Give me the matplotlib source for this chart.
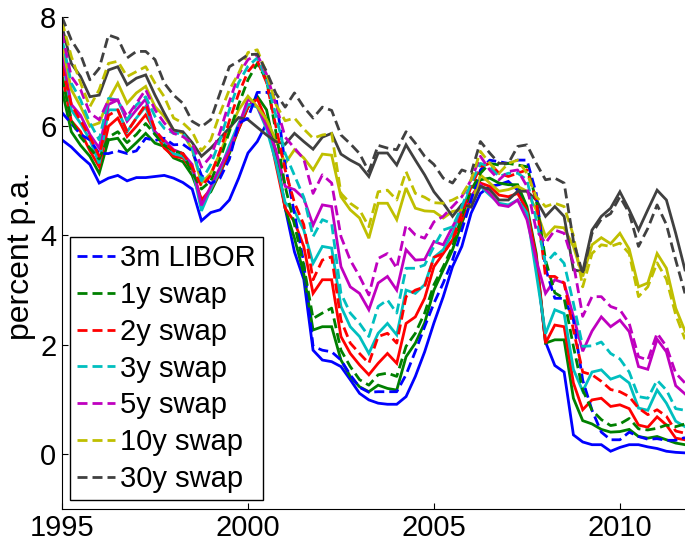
import numpy as np
import matplotlib
matplotlib.use("Agg")
import matplotlib.pyplot as plt

plt.rcParams['font.family'] = ['Liberation Sans', 'DejaVu Sans']

# quarterly observations, 1995Q1 .. 2011Q4
t = 1995 + np.arange(68) / 4.0

labels = ['3m LIBOR', '1y swap', '2y swap', '3y swap', '5y swap', '10y swap', '30y swap']
colors = ['#0000ff', '#008000', '#ff0000', '#00bfbf', '#bf00bf', '#bfbf00', '#404040']

# data (dashed)
libor_obs = [6.25, 6.05, 5.85, 5.75, 5.50, 5.50, 5.55, 5.50, 5.55, 5.78,
             5.74, 5.78, 5.66, 5.67, 5.55, 5.10, 4.95, 5.05, 5.40, 6.05,
             6.15, 6.62, 6.62, 6.55, 5.30, 4.40, 3.50, 1.97, 1.90, 1.87,
             1.72, 1.45, 1.22, 1.13, 1.14, 1.14, 1.14, 1.45, 1.88, 2.33,
             2.76, 3.13, 3.55, 4.10, 4.65, 5.20, 5.38, 5.35, 5.32, 5.38,
             5.38, 4.77, 3.40, 2.85, 2.85, 2.45, 1.35, 0.80, 0.40, 0.26,
             0.26, 0.40, 0.32, 0.27, 0.28, 0.25, 0.25, 0.30]
swap1_obs = [6.90, 6.10, 5.80, 5.60, 5.40, 5.80, 5.90, 5.70, 5.85, 6.05,
             5.85, 5.65, 5.55, 5.50, 5.15, 4.85, 5.00, 5.40, 5.90, 6.40,
             6.85, 7.15, 6.85, 5.90, 4.90, 4.20, 3.45, 2.48, 2.58, 2.67,
             1.90, 1.60, 1.36, 1.26, 1.45, 1.48, 1.42, 1.97, 2.21, 2.58,
             3.10, 3.43, 3.80, 4.35, 4.83, 5.14, 5.32, 5.29, 5.32, 5.29,
             5.26, 4.65, 3.55, 2.95, 2.85, 1.97, 1.17, 0.80, 0.63, 0.52,
             0.55, 0.65, 0.46, 0.44, 0.47, 0.53, 0.50, 0.55]
swap2_obs = [7.10, 6.40, 6.10, 5.80, 5.45, 6.20, 6.30, 5.90, 6.15, 6.40,
             5.95, 5.70, 5.55, 5.50, 5.25, 4.90, 5.10, 5.55, 6.10, 6.60,
             7.00, 7.20, 6.80, 6.00, 5.20, 4.60, 4.20, 3.19, 3.55, 3.61,
             2.45, 2.03, 1.84, 1.66, 2.15, 2.21, 2.03, 2.88, 3.00, 3.06,
             3.60, 3.67, 3.92, 4.41, 4.90, 5.26, 5.32, 5.14, 5.08, 5.14,
             5.20, 4.65, 3.25, 3.25, 3.13, 2.27, 1.50, 1.45, 1.33, 1.18,
             1.14, 1.05, 0.84, 0.72, 0.81, 0.69, 0.42, 0.38]
swap3_obs = [7.60, 6.79, 6.48, 6.06, 5.75, 6.51, 6.48, 6.12, 6.39, 6.54,
             6.18, 5.96, 5.87, 5.87, 5.60, 5.00, 5.30, 5.75, 6.30, 6.80,
             7.10, 7.25, 6.85, 6.20, 5.50, 5.10, 4.70, 3.98, 4.29, 4.22,
             2.94, 2.58, 2.39, 2.15, 2.70, 2.82, 2.58, 3.40, 3.40, 3.46,
             3.80, 4.10, 4.16, 4.53, 4.96, 5.32, 5.26, 5.08, 5.14, 5.14,
             5.02, 4.29, 3.49, 3.68, 3.49, 2.76, 1.97, 1.98, 2.05, 1.84,
             1.74, 1.50, 1.05, 1.02, 1.35, 1.17, 0.83, 0.80]
swap5_obs = [7.70, 6.91, 6.67, 6.24, 6.12, 6.48, 6.48, 6.18, 6.42, 6.67,
             6.30, 6.06, 5.87, 5.81, 5.69, 5.25, 5.45, 5.90, 6.45, 6.95,
             7.22, 7.31, 6.95, 6.40, 5.80, 5.60, 5.40, 4.77, 5.11, 4.96,
             3.98, 3.55, 3.25, 2.91, 3.58, 3.67, 3.40, 4.19, 4.01, 3.95,
             4.25, 4.35, 4.53, 4.71, 5.02, 5.45, 5.20, 5.02, 5.17, 5.20,
             4.90, 4.10, 3.86, 4.10, 4.04, 3.49, 2.52, 2.88, 2.88, 2.70,
             2.64, 2.39, 1.78, 1.72, 2.21, 1.97, 1.48, 1.30]
swap10_obs = [7.92, 7.28, 6.79, 6.36, 6.67, 7.15, 7.19, 6.91, 7.00, 7.09,
              6.79, 6.54, 6.15, 6.06, 5.90, 5.55, 5.75, 6.24, 6.67, 6.97,
              7.35, 7.40, 6.97, 6.40, 6.10, 6.15, 5.95, 5.78, 5.84, 5.87,
              4.77, 4.59, 4.47, 4.16, 4.80, 4.83, 4.65, 5.17, 4.77, 4.70,
              4.60, 4.59, 4.65, 4.74, 5.02, 5.54, 5.32, 5.14, 5.32, 5.38,
              5.14, 4.71, 4.53, 4.59, 4.53, 4.00, 3.06, 3.67, 3.83, 3.80,
              3.86, 3.67, 2.88, 3.06, 3.50, 3.20, 2.55, 2.10]
swap30_obs = [8.00, 7.58, 7.31, 6.85, 7.06, 7.67, 7.61, 7.25, 7.37, 7.37,
              7.22, 6.79, 6.57, 6.42, 6.09, 5.99, 6.12, 6.61, 7.09, 7.19,
              7.31, 7.32, 7.00, 6.60, 6.35, 6.61, 6.35, 6.15, 6.35, 6.29,
              5.84, 5.68, 5.50, 5.17, 5.65, 5.60, 5.57, 5.90, 5.69, 5.45,
              5.30, 5.05, 4.96, 5.20, 5.14, 5.72, 5.51, 5.32, 5.32, 5.63,
              5.66, 5.32, 5.02, 5.05, 4.96, 3.90, 3.30, 4.04, 4.30, 4.40,
              4.71, 4.41, 3.80, 4.13, 4.56, 4.20, 3.55, 2.94]

# model fit (solid)
libor_fit = [5.75, 5.62, 5.45, 5.30, 4.96, 5.05, 5.10, 5.00, 5.06, 5.06,
             5.08, 5.10, 5.05, 4.97, 4.85, 4.27, 4.42, 4.47, 4.65, 5.05,
             5.51, 5.72, 6.05, 5.50, 4.50, 3.70, 3.20, 1.90, 1.72, 1.69,
             1.60, 1.36, 1.11, 0.99, 0.93, 0.91, 0.91, 1.05, 1.42, 1.87,
             2.40, 2.88, 3.43, 3.80, 4.41, 4.77, 4.90, 4.93, 4.99, 4.83,
             4.41, 3.55, 2.05, 1.62, 1.50, 0.35, 0.22, 0.17, 0.17, 0.05,
             0.12, 0.17, 0.17, 0.13, 0.10, 0.05, 0.03, 0.02]
swap1_fit = [6.67, 5.90, 5.65, 5.45, 5.14, 5.75, 5.78, 5.54, 5.70, 5.87,
             5.69, 5.63, 5.42, 5.35, 5.10, 4.65, 4.80, 5.15, 5.50, 5.95,
             6.35, 6.55, 6.30, 5.50, 4.50, 3.95, 3.30, 2.27, 2.33, 2.33,
             1.72, 1.42, 1.23, 1.14, 1.26, 1.20, 1.17, 1.78, 2.03, 2.40,
             3.00, 3.37, 3.74, 4.23, 4.65, 5.02, 5.05, 4.96, 4.93, 4.93,
             4.53, 3.67, 2.03, 2.09, 2.09, 1.02, 0.61, 0.55, 0.45, 0.40,
             0.41, 0.45, 0.32, 0.29, 0.32, 0.26, 0.20, 0.17]
swap2_fit = [6.95, 6.10, 5.90, 5.55, 5.26, 6.00, 6.15, 5.81, 6.00, 6.21,
             5.90, 5.60, 5.45, 5.42, 5.20, 4.65, 4.85, 5.15, 5.55, 5.95,
             6.35, 6.50, 6.10, 5.30, 4.50, 4.25, 3.80, 2.94, 3.19, 3.19,
             2.15, 1.84, 1.63, 1.45, 1.66, 1.84, 1.66, 2.39, 2.51, 2.85,
             3.43, 3.67, 3.92, 4.29, 4.71, 4.96, 4.90, 4.74, 4.71, 4.77,
             4.47, 3.61, 2.03, 2.36, 2.33, 1.30, 0.81, 0.99, 1.02, 0.87,
             0.90, 0.83, 0.53, 0.49, 0.68, 0.53, 0.29, 0.26]
swap3_fit = [7.25, 6.30, 6.05, 5.75, 5.32, 6.30, 6.30, 5.90, 6.15, 6.36,
             5.85, 5.70, 5.50, 5.45, 5.25, 4.45, 4.85, 5.20, 5.65, 6.05,
             6.40, 6.35, 5.95, 5.35, 4.60, 4.45, 4.10, 3.49, 3.80, 3.77,
             2.70, 2.33, 2.15, 1.84, 2.21, 2.39, 2.18, 3.00, 2.94, 3.10,
             3.60, 3.74, 4.04, 4.47, 4.90, 4.90, 4.74, 4.59, 4.56, 4.65,
             4.41, 3.31, 2.20, 2.64, 2.57, 1.55, 1.15, 1.50, 1.54, 1.37,
             1.43, 1.30, 0.84, 0.80, 1.17, 0.93, 0.60, 0.50]
swap5_fit = [7.35, 6.40, 6.20, 5.85, 5.60, 6.40, 6.48, 6.09, 6.30, 6.50,
             5.90, 5.75, 5.57, 5.50, 5.30, 4.55, 4.90, 5.25, 5.57, 6.00,
             6.50, 6.36, 6.00, 5.57, 4.90, 4.84, 4.68, 4.19, 4.56, 4.53,
             3.43, 3.06, 2.94, 2.64, 3.13, 3.25, 3.00, 3.74, 3.55, 3.56,
             3.89, 3.83, 4.16, 4.47, 4.71, 4.93, 4.77, 4.56, 4.53, 4.65,
             4.29, 3.55, 2.94, 3.19, 3.13, 2.52, 1.88, 2.25, 2.51, 2.33,
             2.45, 2.24, 1.60, 1.55, 2.10, 1.87, 1.25, 1.10]
swap10_fit = [7.52, 6.67, 6.36, 6.00, 6.06, 6.48, 6.79, 6.42, 6.61, 6.73,
              6.36, 6.18, 5.93, 5.87, 5.57, 4.96, 5.14, 5.51, 5.93, 6.30,
              6.55, 6.36, 6.12, 5.75, 5.32, 5.57, 5.42, 5.20, 5.49, 5.47,
              4.71, 4.47, 4.32, 3.95, 4.59, 4.59, 4.29, 4.87, 4.50, 4.45,
              4.44, 4.32, 4.44, 4.47, 4.53, 5.11, 4.96, 4.81, 4.84, 4.90,
              4.81, 4.47, 3.98, 4.16, 4.14, 3.80, 3.25, 3.83, 3.96, 3.85,
              4.04, 3.75, 3.06, 3.13, 3.67, 3.40, 2.67, 2.25]
swap30_fit = [7.83, 7.15, 6.91, 6.54, 6.57, 7.03, 7.09, 6.76, 6.88, 6.94,
              6.57, 6.24, 5.93, 5.90, 5.70, 5.45, 5.60, 5.78, 5.97, 6.16,
              6.12, 5.98, 5.84, 5.72, 5.67, 5.87, 5.72, 5.58, 5.80, 5.87,
              5.49, 5.38, 5.29, 5.08, 5.51, 5.51, 5.29, 5.66, 5.38, 5.11,
              4.80, 4.59, 4.35, 4.57, 4.52, 4.90, 4.84, 4.65, 4.65, 4.81,
              4.81, 4.65, 4.35, 4.53, 4.35, 3.37, 3.34, 4.10, 4.35, 4.50,
              4.80, 4.47, 4.10, 4.47, 4.83, 4.65, 4.04, 3.37]

observed = [libor_obs, swap1_obs, swap2_obs, swap3_obs, swap5_obs, swap10_obs, swap30_obs]
fitted = [libor_fit, swap1_fit, swap2_fit, swap3_fit, swap5_fit, swap10_fit, swap30_fit]

fig = plt.figure(figsize=(6.85, 5.45), dpi=100)
ax = fig.add_axes([62 / 685, 36.4 / 545, 623 / 685, 491.6 / 545])

# solid model lines first, dashed data on top
for fit, c in zip(fitted, colors):
    ax.plot(t, fit, color=c, lw=2.0, solid_joinstyle='miter')
handles = []
for obs, c, lab in zip(observed, colors, labels):
    h, = ax.plot(t, obs, color=c, lw=2.0, dashes=(3.6, 1.8), label=lab)
    handles.append(h)

ax.set_xlim(1995, 2011.75)
ax.set_ylim(-1, 8)
ax.set_xticks([1995, 2000, 2005, 2010])
ax.set_yticks([0, 2, 4, 6, 8])
ax.tick_params(direction='in', length=4, width=0.8, labelsize=21, pad=4)
ax.spines['top'].set_visible(False)
ax.spines['right'].set_visible(False)
ax.set_ylabel('percent p.a.', fontsize=23)
ax.yaxis.set_label_coords(-0.042, 0.515)

leg = ax.legend(handles=handles, loc='lower left', bbox_to_anchor=(0.013, 0.017),
                borderaxespad=0, fontsize=21, handlelength=1.3, handletextpad=0.15,
                labelspacing=0.3, borderpad=0.25, fancybox=False, framealpha=1)
leg.get_frame().set_edgecolor('black')
leg.get_frame().set_linewidth(1.0)

fig.savefig('out.png', dpi=100)
